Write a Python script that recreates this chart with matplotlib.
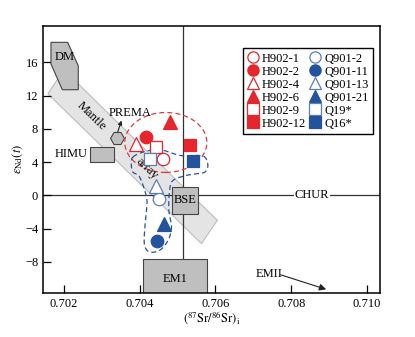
import numpy as np
import matplotlib
matplotlib.use("Agg")
import matplotlib.pyplot as plt
from matplotlib.patches import Polygon, Rectangle, Ellipse

plt.rcParams['font.family'] = ['Liberation Serif', 'DejaVu Serif']
plt.rcParams['mathtext.fontset'] = 'stix'

# sample data: (87Sr/86Sr)i and eNd(t)
samples = ['H902-1', 'H902-2', 'H902-4', 'H902-6', 'H902-9', 'H902-12',
           'Q901-2', 'Q901-11', 'Q901-13', 'Q901-21', 'Q19*', 'Q16*']
sr_i = [0.70461, 0.70418, 0.70391, 0.70479, 0.70444, 0.70532,
        0.70451, 0.70447, 0.70444, 0.70464, 0.70426, 0.70542]
end_t = [4.4, 7.0, 6.2, 8.8, 5.8, 6.0,
         -0.45, -5.5, 1.1, -3.5, 4.4, 4.1]

# reservoir fields
dm_x = [0.70166, 0.70210, 0.70238, 0.70238, 0.70196, 0.70166]
dm_y = [18.4, 18.4, 15.6, 12.7, 12.7, 15.8]
band_x = [0.70158, 0.70200, 0.70605, 0.70563]
band_y = [12.2, 15.1, -3.0, -5.8]
himu_box = (0.70269, 4.07, 0.00062, 1.8)
bse_box = (0.70484, -2.2, 0.00071, 3.2)
em1_box = (0.70409, -13.0, 0.00168, 5.3)
prema = (0.70339, 6.9)
sr_bse = 0.70513

blue_x = [0.70382, 0.70409, 0.70453, 0.70506, 0.70550, 0.70572, 0.70580, 0.70572,
          0.70550, 0.70523, 0.70488, 0.70479, 0.70477, 0.70484, 0.70475, 0.70453,
          0.70426, 0.70413, 0.70413, 0.70418, 0.70418, 0.70400, 0.70382, 0.70378]
blue_y = [4.6, 5.2, 5.5, 4.8, 4.8, 4.6, 3.6, 2.8, 2.6, 2.4, 1.8, 0.6, -1.8, -3.8,
          -5.4, -6.6, -6.8, -6.0, -4.2, -1.8, -0.2, 2.2, 2.8, 3.8]

RED = '#e5262c'
BLUE = '#24539e'
LBLUE = '#5b7fb8'
style = {
    'H902-1': ('o', RED, False), 'H902-2': ('o', RED, True),
    'H902-4': ('^', RED, False), 'H902-6': ('^', RED, True),
    'H902-9': ('s', RED, False), 'H902-12': ('s', RED, True),
    'Q901-2': ('o', LBLUE, False), 'Q901-11': ('o', BLUE, True),
    'Q901-13': ('^', LBLUE, False), 'Q901-21': ('^', BLUE, True),
    'Q19*': ('s', LBLUE, False), 'Q16*': ('s', BLUE, True),
}


def smooth_closed(xs, ys, n=12):
    # Catmull-Rom through the outline points
    p = np.column_stack([xs, ys])
    m = len(p)
    out = []
    for i in range(m):
        p0, p1, p2, p3 = p[i - 1], p[i], p[(i + 1) % m], p[(i + 2) % m]
        for t in np.linspace(0, 1, n, endpoint=False):
            out.append(0.5 * ((2 * p1) + (-p0 + p2) * t
                              + (2 * p0 - 5 * p1 + 4 * p2 - p3) * t ** 2
                              + (-p0 + 3 * p1 - 3 * p2 + p3) * t ** 3))
    out.append(out[0])
    return np.array(out)


fig = plt.figure(figsize=(4.15, 3.37), dpi=100)
ax = fig.add_axes([0.1036, 0.1315, 0.8121, 0.7913])
ax.set_xlim(0.70145, 0.71034)
ax.set_ylim(-11.7, 20.36)

ax.add_patch(Polygon(np.column_stack([band_x, band_y]), closed=True,
                     facecolor='#e4e4e4', edgecolor='#bdbdbd', lw=0.8, zorder=1))
ax.axvline(sr_bse, color='#333333', lw=0.9, zorder=1.5)
ax.axhline(0, color='#333333', lw=0.9, zorder=1.5)

gray = dict(facecolor='#bfbfbf', edgecolor='#444444', lw=0.8, zorder=2)
ax.add_patch(Polygon(np.column_stack([dm_x, dm_y]), closed=True, **gray))
for b in (himu_box, bse_box, em1_box):
    ax.add_patch(Rectangle((b[0], b[1]), b[2], b[3], **gray))
ax.plot(*prema, marker='H', ms=10, mfc='#bfbfbf', mec='#444444', mew=0.8, zorder=2)

ax.add_patch(Ellipse((0.70469, 6.36), 0.002164, 7.2, fill=False,
                     edgecolor='#e0393e', lw=0.9, ls=(0, (4, 2.5)), zorder=3))
cont = smooth_closed(blue_x, blue_y)
ax.plot(cont[:, 0], cont[:, 1], color=BLUE, lw=0.9, ls=(0, (4, 2.5)), zorder=3)

fs = 9
ax.text(0.70202, 16.6, 'DM', fontsize=fs, ha='center', va='center', zorder=4)
ax.text(0.70219, 4.95, 'HIMU', fontsize=fs, ha='center', va='center', zorder=4)
ax.text(0.705195, -0.55, 'BSE', fontsize=fs, ha='center', va='center', zorder=4)
ax.text(0.70493, -10.0, 'EM1', fontsize=fs, ha='center', va='center', zorder=4)
ax.text(0.70273, 9.5, 'Mantle', fontsize=fs, ha='center', va='center', rotation=-44, zorder=4)
ax.text(0.70418, 3.2, 'array', fontsize=fs, ha='center', va='center', rotation=-44, zorder=4)
ax.text(0.70375, 9.85, 'PREMA', fontsize=fs, ha='center', va='center', zorder=4)
ax.annotate('', xy=(0.70352, 9.0), xytext=(0.70342, 7.6),
            arrowprops=dict(arrowstyle='-|>', color='#222222', lw=0.8,
                            mutation_scale=6, shrinkA=0, shrinkB=0), zorder=4)
ax.text(0.70855, 0, 'CHUR', fontsize=fs, ha='center', va='center', zorder=4,
        bbox=dict(facecolor='white', edgecolor='none', pad=0.5))
ax.text(0.70742, -9.5, 'EMII', fontsize=fs, ha='center', va='center', zorder=4)
ax.annotate('', xy=(0.70892, -11.3), xytext=(0.70772, -9.55),
            arrowprops=dict(arrowstyle='-|>', color='#222222', lw=0.8,
                            mutation_scale=10, shrinkA=0, shrinkB=0), zorder=4)

handles = []
for name, x, y in zip(samples, sr_i, end_t):
    mk, c, filled = style[name]
    ms = 10 if mk == '^' else 9
    h, = ax.plot(x, y, ls='none', marker=mk, ms=ms, mec=c, mew=0.9,
                 mfc=c if filled else 'white', zorder=5, label=name)
    handles.append(h)

leg = ax.legend(handles=handles, ncol=2, loc='upper left',
                bbox_to_anchor=(0.575, 0.94), fontsize=fs, frameon=True,
                fancybox=False, edgecolor='black', framealpha=1,
                labelspacing=0.08, handlelength=0.9, handletextpad=0.25,
                columnspacing=0.3, borderpad=0.35, markerscale=0.9)
leg.get_frame().set_linewidth(1.0)

ax.set_xticks([0.702, 0.704, 0.706, 0.708, 0.710])
ax.set_xticklabels(['0.702', '0.704', '0.706', '0.708', '0.710'])
ax.set_yticks([-8, -4, 0, 4, 8, 12, 16])
ax.tick_params(direction='in', length=6, width=0.9, labelsize=fs, top=False, right=False)
for s in ax.spines.values():
    s.set_linewidth(1.1)

ax.set_xlabel(r'$(^{87}\mathrm{Sr}/^{86}\mathrm{Sr})_{\mathrm{i}}$', fontsize=fs, labelpad=0)
ax.set_ylabel(r'$\varepsilon_{\mathrm{Nd}}(t)$', fontsize=fs, labelpad=0)

fig.savefig('out.png', dpi=100)
